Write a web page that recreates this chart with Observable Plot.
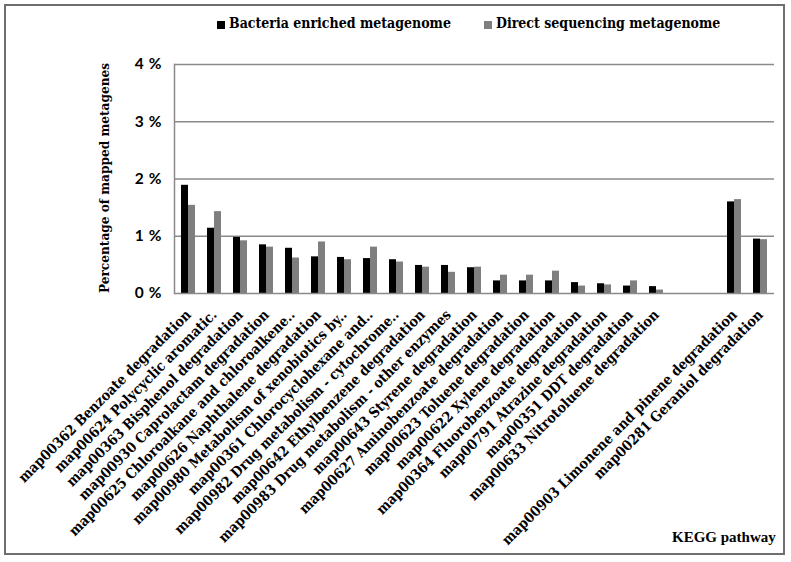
<!DOCTYPE html>
<html><head><meta charset="utf-8">
<script src="https://cdn.jsdelivr.net/npm/d3@7"></script>
<script src="https://cdn.jsdelivr.net/npm/@observablehq/plot@0.6"></script>
<style>
body{margin:0;background:#fff;}
#wrap{position:relative;width:791px;height:562px;overflow:hidden;background:#fff;}
#border{position:absolute;left:4px;top:4px;width:781px;height:551px;border:2px solid #6e6e6e;box-sizing:border-box;}
#chart{position:absolute;left:0;top:0;}
.cond{font-family:"DejaVu Serif Condensed","DejaVu Serif",serif;font-stretch:condensed;font-weight:bold;color:#000;}
.leg{position:absolute;top:15px;font-size:14px;line-height:normal;white-space:nowrap;}
.sw{position:absolute;width:8px;height:8px;}
#ytitle{position:absolute;left:104px;top:178px;font-size:13.5px;white-space:nowrap;transform:translate(-50%,-50%) rotate(-90deg);}
#xtitle{position:absolute;left:672px;top:529px;font-family:"Liberation Serif","Times New Roman",serif;font-weight:bold;font-size:15px;white-space:nowrap;}
g[aria-label="y-axis tick label"] text{letter-spacing:5px;}
</style></head>
<body>
<div id="wrap">
  <div id="chart"></div>
  <div id="border"></div>
  <div class="sw" style="left:217px;top:21px;background:#000"></div>
  <div class="leg cond" style="left:229px">Bacteria enriched metagenome</div>
  <div class="sw" style="left:484px;top:21px;background:#7f7f7f"></div>
  <div class="leg cond" style="left:496px">Direct sequencing metagenome</div>
  <div id="ytitle" class="cond">Percentage of mapped metagenes</div>
  <div id="xtitle">KEGG pathway</div>
</div>
<script>
const categories = [
  "map00362 Benzoate degradation",
  "map00624 Polycyclic aromatic.",
  "map00363 Bisphenol degradation",
  "map00930 Caprolactam degradation",
  "map00625 Chloroalkane and chloroalkene..",
  "map00626 Naphthalene degradation",
  "map00980 Metabolism of xenobiotics by..",
  "map00361 Chlorocyclohexane and..",
  "map00982 Drug metabolism - cytochrome..",
  "map00642 Ethylbenzene degradation",
  "map00983 Drug metabolism - other enzymes",
  "map00643 Styrene degradation",
  "map00627 Aminobenzoate degradation",
  "map00623 Toluene degradation",
  "map00622 Xylene degradation",
  "map00364 Fluorobenzoate degradation",
  "map00791 Atrazine degradation",
  "map00351 DDT degradation",
  "map00633 Nitrotoluene degradation",
  "map00903 Limonene and pinene degradation",
  "map00281 Geraniol degradation"
];
const bacteriaEnriched = [1.89,1.14,0.98,0.85,0.79,0.64,0.63,0.61,0.59,0.49,0.49,0.45,0.22,0.22,0.22,0.19,0.17,0.13,0.12,1.60,0.95];
const directSequencing = [1.54,1.43,0.92,0.81,0.62,0.90,0.59,0.81,0.55,0.46,0.37,0.46,0.32,0.32,0.39,0.13,0.15,0.22,0.06,1.64,0.94];
const seriesNames = ["Bacteria enriched metagenome","Direct sequencing metagenome"];
const yTicks = [0,1,2,3,4];
const gapSlots = [" ", "  "];

const slots = [...categories.slice(0,19), ...gapSlots, ...categories.slice(19)];
const rowsA = categories.map((c,i)=>({cat:c, v:bacteriaEnriched[i], s:seriesNames[0]}));
const rowsB = categories.map((c,i)=>({cat:c, v:directSequencing[i], s:seriesNames[1]}));
const gridColor = "#8a8a8a";
const condSerif = "DejaVu Serif Condensed, DejaVu Serif, serif";

const plot = Plot.plot({
  width: 791, height: 562,
  marginLeft: 174, marginRight: 17, marginTop: 64, marginBottom: 269,
  x: {domain: slots, padding: 0, axis: null},
  y: {domain: [0,4], axis: null},
  style: {background: "transparent", color: "#000"},
  marks: [
    Plot.ruleY(yTicks.filter(d=>d>0), {stroke: gridColor, strokeWidth: 1.5}),
    Plot.barY(rowsA, {x: "cat", y: "v", fill: "#000", insetLeft: 6, insetRight: 13}),
    Plot.barY(rowsB, {x: "cat", y: "v", fill: "#7f7f7f", insetLeft: 13, insetRight: 6}),
    Plot.ruleY([0], {stroke: gridColor, strokeWidth: 1.5}),
    Plot.frame({anchor: "left", stroke: gridColor, strokeWidth: 1.5}),
    Plot.axisY({ticks: yTicks, tickFormat: d => d + "%", tickSize: 0, tickPadding: 8, label: null,
      fontFamily: "Lato, Open Sans, sans-serif", fontWeight: "bold", fontSize: 15.5}),
    Plot.axisX({tickRotate: -45, tickSize: 0, tickPadding: 19, label: null,
      tickFormat: d => d.trim() === "" ? "" : d,
      fontFamily: condSerif, fontWeight: "bold", fontSize: 14.2, fontStretch: "condensed",
      stroke: "#000", strokeWidth: 0.35})
  ]
});
document.getElementById("chart").appendChild(plot);
</script>
</body></html>
